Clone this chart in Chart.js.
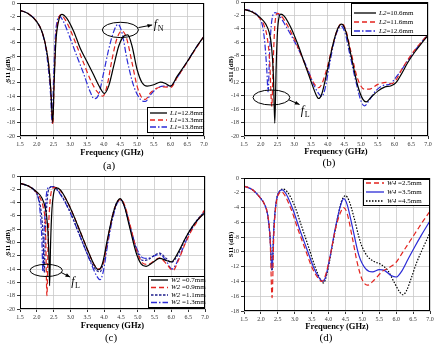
<!DOCTYPE html>
<html>
<head>
<meta charset="utf-8">
<script src="https://cdn.jsdelivr.net/npm/chart.js@4.4.1/dist/chart.umd.min.js"></script>
<style>
    body { margin: 0; background: #fff; width: 436px; height: 346px; position: relative; overflow: hidden; font-family: "Liberation Serif", serif; }
    .panel { position: absolute; width: 218px; height: 173px; }
    .cap { position: absolute; font-size: 11px; color: #000; transform: translate(-50%, -50%); }
</style>
</head>
<body>
<div class="panel" style="left:0;top:0"><canvas id="chartA" width="218" height="173"></canvas></div>
<div class="panel" style="left:218px;top:0"><canvas id="chartB" width="218" height="173"></canvas></div>
<div class="panel" style="left:0;top:173px"><canvas id="chartC" width="218" height="173"></canvas></div>
<div class="panel" style="left:218px;top:173px"><canvas id="chartD" width="218" height="173"></canvas></div>
<div class="cap" style="left:109px;top:165px">(a)</div>
<div class="cap" style="left:329px;top:162px">(b)</div>
<div class="cap" style="left:111px;top:337px">(c)</div>
<div class="cap" style="left:326px;top:337px">(d)</div>
<script>
// ---- (a) L1 sweep ----
var freqA1 = [1.5, 1.75, 2.0, 2.15, 2.25, 2.35, 2.42, 2.48, 2.52, 2.57, 2.65, 2.75, 2.9, 3.1, 3.3, 3.5, 3.7, 3.9, 4.02, 4.15, 4.3, 4.45, 4.6, 4.72, 4.85, 5.0, 5.15, 5.3, 5.5, 5.7, 5.85, 6.0, 6.2, 6.5, 6.75, 7.0];
var s11A1 = [-1.1, -1.6, -2.8, -4.2, -6, -9, -13, -18, -12, -6, -2.8, -1.7, -2.3, -4.2, -6.8, -8.8, -10.8, -12.8, -13.6, -12.5, -9.5, -6.5, -5.0, -4.8, -6.5, -10, -12, -12.5, -12.3, -11.9, -12.1, -12.5, -11, -8.8, -6.8, -5.0];
var freqA2 = [1.5, 1.75, 2.0, 2.15, 2.25, 2.35, 2.42, 2.48, 2.52, 2.57, 2.64, 2.72, 2.85, 3.0, 3.2, 3.4, 3.6, 3.8, 3.98, 4.1, 4.25, 4.4, 4.55, 4.68, 4.85, 5.0, 5.15, 5.25, 5.4, 5.6, 5.8, 6.0, 6.2, 6.5, 6.75, 7.0];
var s11A2 = [-1.1, -1.6, -2.8, -4.2, -6, -9, -13, -18.3, -12, -5.5, -2.6, -1.8, -2.5, -4.0, -6.5, -9, -11.5, -13.3, -14.0, -12.5, -8.5, -5.3, -4.2, -5.2, -9, -12.5, -14.3, -14.5, -13.5, -12.8, -12.6, -12.7, -11.2, -8.9, -6.9, -5.0];
var freqA3 = [1.5, 1.75, 2.0, 2.15, 2.25, 2.34, 2.41, 2.46, 2.5, 2.55, 2.62, 2.68, 2.8, 3.0, 3.2, 3.4, 3.6, 3.72, 3.85, 4.0, 4.15, 4.3, 4.43, 4.55, 4.7, 4.9, 5.1, 5.25, 5.4, 5.6, 5.8, 6.0, 6.2, 6.5, 6.75, 7.0];
var s11A3 = [-1.1, -1.6, -2.8, -4.3, -6.2, -9.5, -13.5, -18, -12, -5.5, -2.5, -2.0, -2.8, -5.3, -8.0, -10.6, -13.4, -14.4, -13.8, -10.5, -7, -4.3, -3.2, -4.5, -8.5, -12.5, -14.5, -14.8, -13.8, -12.8, -12.5, -12.5, -11.2, -8.8, -6.8, -5.0];

// ---- (b) L2 sweep ----
var freqB1 = [1.5, 1.75, 2.0, 2.15, 2.25, 2.32, 2.38, 2.42, 2.46, 2.5, 2.55, 2.6, 2.7, 2.9, 3.1, 3.3, 3.5, 3.65, 3.73, 3.82, 4.0, 4.15, 4.3, 4.42, 4.55, 4.7, 4.9, 5.05, 5.15, 5.3, 5.5, 5.7, 5.9, 6.05, 6.2, 6.4, 6.6, 6.8, 7.0];
var s11B1 = [-1.1, -1.5, -2.4, -3.3, -4.5, -6.5, -11, -18.1, -10, -4.5, -2.2, -1.8, -2.1, -3.8, -6.2, -9, -11.8, -13.8, -14.4, -13.8, -10, -6.5, -4.0, -3.3, -4.5, -8, -12.5, -14.5, -14.9, -14.2, -13.3, -12.7, -12.5, -12.0, -10.8, -9.0, -7.5, -6.2, -5.0];
var freqB2 = [1.5, 1.75, 2.0, 2.1, 2.2, 2.27, 2.33, 2.38, 2.43, 2.5, 2.6, 2.8, 3.0, 3.2, 3.4, 3.6, 3.72, 3.82, 4.0, 4.15, 4.3, 4.42, 4.55, 4.7, 4.9, 5.1, 5.25, 5.5, 5.75, 5.9, 6.05, 6.2, 6.4, 6.6, 6.8, 7.0];
var s11B2 = [-1.1, -1.5, -2.6, -3.5, -5.5, -9, -15.6, -8, -3, -1.7, -2.0, -3.5, -5.5, -7.8, -10.2, -12.2, -12.8, -12.3, -9.5, -6.5, -4.0, -3.2, -4.3, -7.5, -11.5, -13.0, -13.0, -12.3, -12.0, -12.2, -11.6, -10.2, -8.6, -7.2, -6.0, -4.9];
var freqB3 = [1.5, 1.75, 1.95, 2.05, 2.12, 2.18, 2.22, 2.27, 2.33, 2.43, 2.55, 2.75, 3.0, 3.2, 3.4, 3.6, 3.75, 3.82, 3.92, 4.05, 4.2, 4.32, 4.4, 4.52, 4.65, 4.85, 5.0, 5.1, 5.25, 5.45, 5.7, 5.85, 6.0, 6.2, 6.4, 6.6, 6.8, 7.0];
var s11B3 = [-1.1, -1.4, -2.3, -3.5, -6, -10, -13.4, -7, -2.8, -1.6, -2.0, -3.6, -5.8, -7.8, -10, -12.5, -13.8, -14.1, -13, -9.5, -5.8, -4.0, -3.6, -4.6, -7.5, -12, -14.8, -15.5, -14.6, -13.2, -12.4, -12.3, -11.5, -10.2, -8.7, -7.3, -6.0, -4.9];

// ---- (c) W2 sweep ----
var freqC1 = [1.5, 1.75, 2.0, 2.15, 2.25, 2.32, 2.36, 2.38, 2.41, 2.45, 2.5, 2.58, 2.7, 2.9, 3.1, 3.3, 3.5, 3.7, 3.83, 3.95, 4.1, 4.25, 4.38, 4.48, 4.6, 4.75, 4.95, 5.1, 5.25, 5.45, 5.65, 5.85, 6.0, 6.2, 6.4, 6.6, 6.8, 7.0];
var s11C1 = [-1.1, -1.5, -2.4, -3.3, -4.8, -7.5, -12, -16.5, -10, -5, -2.6, -1.8, -2.1, -3.8, -6, -8.5, -11, -13.3, -14.1, -13.2, -9.5, -6, -4.0, -3.4, -4.5, -7.5, -11.5, -13.2, -13.6, -13.0, -12.4, -12.7, -12.9, -11.5, -9.5, -7.8, -6.5, -5.5];
var freqC2 = [1.5, 1.75, 2.0, 2.1, 2.2, 2.26, 2.3, 2.34, 2.4, 2.48, 2.55, 2.7, 2.9, 3.1, 3.3, 3.5, 3.7, 3.85, 3.97, 4.1, 4.25, 4.38, 4.5, 4.62, 4.78, 4.98, 5.15, 5.3, 5.5, 5.65, 5.85, 6.05, 6.2, 6.4, 6.6, 6.8, 7.0];
var s11C2 = [-1.1, -1.5, -2.5, -3.3, -5, -8, -18, -9, -3.5, -1.8, -1.7, -2.2, -3.8, -6, -8.5, -11, -13.3, -14.0, -13.2, -9.8, -6, -4, -3.5, -4.5, -7.5, -11.4, -13.1, -13.3, -12.7, -12.3, -13.2, -14.2, -12.8, -10.3, -8.2, -6.6, -5.0];
var freqC3 = [1.5, 1.75, 1.95, 2.05, 2.12, 2.18, 2.22, 2.26, 2.32, 2.4, 2.48, 2.6, 2.8, 3.0, 3.2, 3.4, 3.6, 3.8, 3.88, 4.0, 4.15, 4.3, 4.42, 4.5, 4.62, 4.78, 4.98, 5.15, 5.3, 5.5, 5.65, 5.85, 6.0, 6.2, 6.4, 6.6, 6.8, 7.0];
var s11C3 = [-1.1, -1.5, -2.3, -3.3, -5, -8.5, -14.5, -8, -3, -1.7, -1.6, -2.0, -3.5, -5.5, -8, -10.5, -12.8, -14.3, -14.4, -12.5, -8.5, -5, -3.7, -3.6, -4.8, -7.8, -11.3, -12.7, -12.6, -11.9, -11.6, -12.4, -13.0, -11.8, -9.6, -7.8, -6.4, -5.3];
var freqC4 = [1.5, 1.75, 1.95, 2.05, 2.1, 2.15, 2.18, 2.22, 2.28, 2.36, 2.45, 2.6, 2.8, 3.0, 3.2, 3.4, 3.6, 3.8, 3.88, 3.97, 4.1, 4.25, 4.4, 4.5, 4.62, 4.78, 4.98, 5.15, 5.3, 5.5, 5.65, 5.85, 6.02, 6.2, 6.4, 6.6, 6.8, 7.0];
var s11C4 = [-1.1, -1.5, -2.3, -3.5, -5.5, -9.5, -14.3, -8, -3, -1.7, -1.6, -2.1, -3.6, -5.6, -8, -10.5, -13, -15.2, -15.6, -14.5, -10.5, -6.5, -4.0, -3.6, -4.8, -7.8, -11.0, -12.3, -12.4, -12.0, -11.8, -12.8, -14.0, -12.6, -10.2, -8.0, -6.5, -5.3];

// ---- (d) W4 sweep ----
var freqD1 = [1.5, 1.75, 2.0, 2.1, 2.2, 2.27, 2.33, 2.38, 2.45, 2.55, 2.6, 2.7, 2.9, 3.1, 3.3, 3.5, 3.7, 3.8, 3.9, 4.05, 4.2, 4.35, 4.45, 4.55, 4.7, 4.85, 5.0, 5.15, 5.35, 5.6, 5.8, 6.0, 6.2, 6.4, 6.6, 6.8, 7.0];
var s11D1 = [-1.1, -1.6, -2.8, -3.5, -5.0, -8, -16.2, -8, -3.5, -2.0, -1.8, -2.3, -4.3, -7, -9.5, -12, -13.6, -14.0, -13.3, -10.5, -7, -4.7, -4.0, -4.8, -8, -11.5, -13.8, -14.5, -13.8, -12.6, -12.1, -11.4, -10.0, -8.6, -7.2, -5.8, -4.5];
var freqD2 = [1.5, 1.75, 2.0, 2.1, 2.2, 2.27, 2.33, 2.38, 2.45, 2.55, 2.63, 2.75, 2.95, 3.15, 3.35, 3.55, 3.75, 3.83, 3.92, 4.05, 4.2, 4.35, 4.45, 4.55, 4.7, 4.9, 5.1, 5.3, 5.5, 5.65, 5.85, 6.0, 6.15, 6.35, 6.55, 6.75, 7.0];
var s11D2 = [-1.1, -1.6, -2.8, -3.5, -5.0, -8, -12.5, -7, -3.3, -1.8, -1.6, -2.2, -4.3, -7, -9.5, -12, -13.7, -14.0, -13.3, -10.5, -6.8, -3.8, -2.8, -3.6, -6.5, -10.5, -12.3, -12.7, -12.4, -12.5, -13.2, -13.4, -12.7, -11, -9.3, -7.7, -5.8];
var freqD3 = [1.5, 1.75, 2.0, 2.1, 2.2, 2.27, 2.33, 2.38, 2.45, 2.55, 2.65, 2.8, 3.0, 3.2, 3.4, 3.6, 3.78, 3.85, 3.95, 4.1, 4.25, 4.38, 4.5, 4.6, 4.75, 4.95, 5.15, 5.35, 5.55, 5.75, 5.95, 6.1, 6.2, 6.3, 6.45, 6.6, 6.8, 7.0];
var s11D3 = [-1.1, -1.6, -2.8, -3.5, -5.0, -8, -12.5, -7, -3.3, -1.8, -1.5, -2.0, -3.8, -6.5, -9.2, -12, -13.9, -14.2, -13, -9.5, -5.8, -3.2, -2.4, -3.0, -5.3, -8.8, -10.6, -11.3, -11.7, -12.5, -14.2, -15.4, -15.8, -15.3, -13.5, -11.5, -9.4, -7.4];

var freqTicks = [1.5, 7.0, 0.5];
var RED = '#e3231e';
var BLUE = '#2b2bd6';
var NAVY = '#1c1c8a';
var SERIF = '"Liberation Serif", "Times New Roman", serif';

function pts(fs, vs) {
    return fs.map(function (f, i) { return { x: f, y: vs[i] }; });
}

function series(label, fs, vs, color, dash) {
    return {
        label: label,
        data: pts(fs, vs),
        borderColor: color,
        borderWidth: 1.2,
        borderDash: dash,
        pointRadius: 0,
        fill: false,
        cubicInterpolationMode: 'monotone'
    };
}

// frame, inside legend and ellipse/arrow callouts
var extrasPlugin = {
    id: 'extras',
    afterDraw: function (chart) {
        var ctx = chart.ctx;
        var a = chart.chartArea;
        var o = chart.options.plugins.extras;
        var sx = chart.scales.x, sy = chart.scales.y;
        ctx.save();
        ctx.strokeStyle = '#000';
        ctx.lineWidth = 1;
        ctx.strokeRect(a.left + 0.5, a.top + 0.5, a.right - a.left - 1, a.bottom - a.top - 1);

        if (o.callout) {
            var c = o.callout;
            var cx = sx.getPixelForValue(c.x), cy = sy.getPixelForValue(c.y);
            var rx = Math.abs(sx.getPixelForValue(c.x + c.rx) - cx);
            var ry = Math.abs(sy.getPixelForValue(c.y + c.ry) - cy);
            ctx.lineWidth = 1;
            ctx.beginPath();
            ctx.ellipse(cx, cy, rx, ry, 0, 0, Math.PI * 2);
            ctx.stroke();
            var x1 = sx.getPixelForValue(c.arrow[0]), y1 = sy.getPixelForValue(c.arrow[1]);
            var x2 = sx.getPixelForValue(c.arrow[2]), y2 = sy.getPixelForValue(c.arrow[3]);
            ctx.beginPath();
            ctx.moveTo(x1, y1);
            ctx.lineTo(x2, y2);
            ctx.stroke();
            var ang = Math.atan2(y2 - y1, x2 - x1);
            ctx.fillStyle = '#000';
            ctx.beginPath();
            ctx.moveTo(x2, y2);
            ctx.lineTo(x2 - 5 * Math.cos(ang - 0.4), y2 - 5 * Math.sin(ang - 0.4));
            ctx.lineTo(x2 - 5 * Math.cos(ang + 0.4), y2 - 5 * Math.sin(ang + 0.4));
            ctx.closePath();
            ctx.fill();
            var lx = sx.getPixelForValue(c.text[0]), ly = sy.getPixelForValue(c.text[1]);
            ctx.textBaseline = 'middle';
            ctx.textAlign = 'left';
            ctx.font = 'italic 12px ' + SERIF;
            ctx.fillText('f', lx, ly);
            var fw = ctx.measureText('f').width;
            ctx.font = '8px ' + SERIF;
            ctx.fillText(c.sub, lx + fw + 0.5, ly + 4);
        }

        if (o.legend) {
            var lg = o.legend;
            ctx.fillStyle = '#fff';
            ctx.fillRect(lg.x, lg.y, lg.w, lg.h);
            ctx.strokeStyle = '#000';
            ctx.lineWidth = 1;
            ctx.strokeRect(lg.x + 0.5, lg.y + 0.5, lg.w, lg.h);
            chart.data.datasets.forEach(function (ds, i) {
                var ry = lg.y + lg.rows[i];
                ctx.strokeStyle = ds.borderColor;
                ctx.lineWidth = 1.3;
                ctx.setLineDash(ds.borderDash || []);
                ctx.beginPath();
                ctx.moveTo(lg.x + lg.line[0], ry);
                ctx.lineTo(lg.x + lg.line[1], ry);
                ctx.stroke();
                ctx.setLineDash([]);
                var parts = ds.label.split('=');
                var tx = lg.x + lg.text;
                ctx.fillStyle = '#000';
                ctx.textBaseline = 'middle';
                ctx.textAlign = 'left';
                ctx.font = 'italic 7px ' + SERIF;
                ctx.fillText(parts[0], tx, ry);
                tx += ctx.measureText(parts[0]).width;
                ctx.font = '7px ' + SERIF;
                ctx.fillText('=' + parts[1], tx, ry);
            });
        }
        ctx.restore();
    }
};

function makePanel(id, box, datasets, yMin, extras) {
    var cw = 218, ch = 173;
    return new Chart(document.getElementById(id), {
        type: 'line',
        data: { datasets: datasets },
        plugins: [extrasPlugin],
        options: {
            responsive: false,
            animation: false,
            events: [],
            layout: { padding: { left: 0, top: box.top, right: cw - box.right, bottom: 0 } },
            plugins: {
                legend: { display: false },
                tooltip: { enabled: false },
                extras: extras
            },
            scales: {
                x: {
                    type: 'linear',
                    min: freqTicks[0],
                    max: freqTicks[1],
                    afterFit: function (s) { s.height = ch - box.bottom; s.paddingLeft = 0; s.paddingRight = 0; },
                    ticks: {
                        stepSize: freqTicks[2],
                        padding: 2,
                        color: '#333',
                        font: { family: SERIF, size: 6 },
                        maxRotation: 0,
                        callback: function (v) { return v.toFixed(1); }
                    },
                    grid: { color: '#c9c9c9', lineWidth: 0.8, tickLength: 3, tickColor: '#000' },
                    border: { display: false },
                    title: {
                        display: true,
                        text: 'Frequency (GHz)',
                        color: '#000',
                        font: { family: SERIF, size: 8.5, weight: 'bold' },
                        padding: { top: 0, bottom: box.xTitle }
                    }
                },
                y: {
                    min: yMin,
                    max: 0,
                    afterFit: function (s) { s.width = box.left; s.paddingTop = 0; s.paddingBottom = 0; },
                    ticks: {
                        stepSize: 2,
                        padding: 2,
                        color: '#333',
                        font: { family: SERIF, size: 6 }
                    },
                    grid: { color: '#c9c9c9', lineWidth: 0.8, tickLength: 3, tickColor: '#000' },
                    border: { display: false },
                    title: {
                        display: true,
                        text: 'S11 (dB)',
                        color: '#000',
                        font: { family: SERIF, size: 7, weight: 'bold' },
                        padding: { top: box.yTitle, bottom: 0 }
                    }
                }
            }
        }
    });
}

makePanel('chartA', { left: 20, top: 3, right: 204, bottom: 136, xTitle: 15, yTitle: 4 }, [
    series('L1=12.8mm', freqA1, s11A1, '#000', []),
    series('L1=13.3mm', freqA2, s11A2, RED, [5, 3]),
    series('L1=13.8mm', freqA3, s11A3, BLUE, [6, 2, 1.5, 2])
], -20, {
    legend: { x: 147, y: 107, w: 56, h: 25, rows: [6, 13, 20], line: [3, 20], text: 23 },
    callout: { x: 4.5, y: -4.05, rx: 0.54, ry: 1.15, arrow: [5.04, -3.7, 5.45, -3.3], text: [5.5, -3.3], sub: 'N' }
});

makePanel('chartB', { left: 26, top: 2, right: 210, bottom: 136, xTitle: 16, yTitle: 9 }, [
    series('L2=10.6mm', freqB1, s11B1, '#000', []),
    series('L2=11.6mm', freqB2, s11B2, RED, [5, 3]),
    series('L2=12.6mm', freqB3, s11B3, BLUE, [6, 2, 1.5, 2])
], -20, {
    legend: { x: 133, y: 3, w: 76, h: 32, rows: [10, 19, 28], line: [3, 25], text: 28 },
    callout: { x: 2.32, y: -14.25, rx: 0.55, ry: 1.12, arrow: [2.84, -14.6, 3.16, -15.3], text: [3.2, -16.3], sub: 'L' }
});

makePanel('chartC', { left: 20, top: 3, right: 205, bottom: 136, xTitle: 15, yTitle: 4 }, [
    series('W2 =0.7mm', freqC1, s11C1, '#000', []),
    series('W2 =0.9mm', freqC2, s11C2, RED, [5, 3]),
    series('W2 =1.1mm', freqC3, s11C3, NAVY, [2.5, 1.5]),
    series('W2 =1.3mm', freqC4, s11C4, BLUE, [6, 2, 1.5, 2])
], -20, {
    legend: { x: 148, y: 103, w: 56, h: 31, rows: [4, 11.5, 19, 26.5], line: [3, 20], text: 23 },
    callout: { x: 2.28, y: -14.2, rx: 0.48, ry: 0.92, arrow: [2.72, -14.5, 2.99, -15.2], text: [3.02, -15.9], sub: 'L' }
});

makePanel('chartD', { left: 26, top: 5, right: 212, bottom: 138, xTitle: 14, yTitle: 9 }, [
    series('W4 =2.5mm', freqD1, s11D1, RED, [5, 3]),
    series('W4 =3.5mm', freqD2, s11D2, BLUE, []),
    series('W4 =4.5mm', freqD3, s11D3, '#000', [1.5, 1.5])
], -18, {
    legend: { x: 145, y: 6, w: 66, h: 26, rows: [4, 13, 22], line: [3, 21], text: 24 }
});
</script>
</body>
</html>
